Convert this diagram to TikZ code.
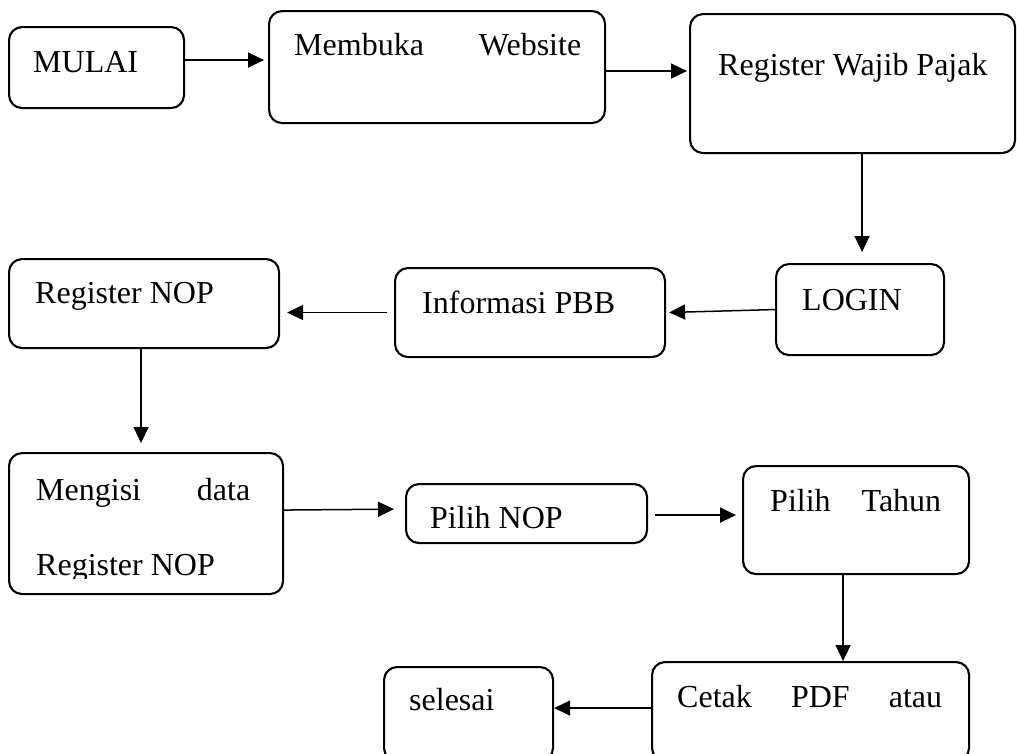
\documentclass[tikz,border=0pt]{standalone}
\usepackage{fontspec}
\setmainfont{Liberation Serif}
\usepackage{tikz}
\usetikzlibrary{arrows.meta}

\begin{document}
\begin{tikzpicture}[x=1pt, y=-1pt,
    kotak/.style={draw, line width=2.1pt, rounded corners=13pt, anchor=north west, inner sep=0pt},
    teks/.style={anchor=base west, inner sep=0pt, font=\fontsize{32}{38}\selectfont},
    panah/.style={line width=1.5pt, -{Triangle[length=16pt, width=15pt]}}]
    \clip (0,0) rectangle (1017,753);
    % Kotak
    \node[kotak, minimum width=175pt, minimum height=81pt]  (mulai)    at (8,26)    {};
    \node[kotak, minimum width=336pt, minimum height=112pt] (buka)     at (268,10)  {};
    \node[kotak, minimum width=325pt, minimum height=139pt] (regwp)    at (689,13)  {};
    \node[kotak, minimum width=168pt, minimum height=91pt]  (login)    at (775,263) {};
    \node[kotak, minimum width=270pt, minimum height=89pt]  (info)     at (394,267) {};
    \node[kotak, minimum width=270pt, minimum height=89pt]  (regnop)   at (8,258)   {};
    \node[kotak, minimum width=274pt, minimum height=141pt] (isi)      at (8,452)   {};
    \node[kotak, minimum width=241pt, minimum height=59pt]  (pilihnop) at (405,483) {};
    \node[kotak, minimum width=226pt, minimum height=108pt] (tahun)    at (742,465) {};
    \node[kotak, minimum width=317pt, minimum height=99pt]  (cetak)    at (651,661) {};
    \node[kotak, minimum width=169pt, minimum height=94pt]  (selesai)  at (383,666) {};
    % Teks
    \node[teks] (tmulai)   at (33,72)   {MULAI};
    \node[teks] (tbuka)    at (294,55)  {\makebox[287pt][s]{Membuka Website}};
    \node[teks] (tregwp)   at (718,75)  {Register Wajib Pajak};
    \node[teks] (tlogin)   at (802,310) {LOGIN};
    \node[teks] (tinfo)    at (422,313) {Informasi PBB};
    \node[teks] (tregnop)  at (35,303)  {Register NOP};
    \node[teks] (tisi)     at (36,500)  {\makebox[214pt][s]{Mengisi data}};
    \begin{scope}
      \clip (0,440) rectangle (300,578);
      \node[teks] (tisib)  at (36,575)  {Register NOP};
    \end{scope}
    \node[teks] (tpilih)   at (430,528) {Pilih NOP};
    \node[teks] (ttahun)   at (770,511) {\makebox[171pt][s]{Pilih Tahun}};
    \node[teks] (tcetak)   at (677,707) {\makebox[265pt][s]{Cetak PDF atau}};
    \node[teks] (tselesai) at (409,710) {selesai};
    % Panah
    \draw[panah, shorten >=4pt] ([yshift=7.5pt]mulai.east) -- ([yshift=7pt]buka.west);
    \draw[panah, shorten >=2pt] ([yshift=-4pt]buka.east) -- ([yshift=-4pt]buka.east -| regwp.west);
    \draw[panah, shorten >=11pt] ([xshift=9.5pt]regwp.south) -- ([xshift=9.5pt]regwp.south |- login.north);
    \draw[panah, shorten >=3pt] (login.west) -- (info.east);
    \draw[panah, shorten <=7pt, shorten >=7pt] (info.west) -- (info.west -| regnop.east);
    \draw[panah, shorten >=9pt] ([xshift=-3pt]regnop.south) -- ([xshift=-3pt]regnop.south |- isi.north);
    \draw[panah, shorten >=11pt] ([yshift=13.5pt]isi.east) -- ([yshift=4.5pt]pilihnop.west);
    \draw[panah, shorten <=7pt, shorten >=6pt] ([yshift=-1.5pt]pilihnop.east) -- ([yshift=-1.5pt]pilihnop.east -| tahun.west);
    \draw[panah] ([xshift=-13pt]tahun.south) -- ([xshift=-13pt]tahun.south |- cetak.north);
    \draw[panah] ([yshift=3.5pt]cetak.west) -- ([yshift=3.5pt]cetak.west -| selesai.east);
\end{tikzpicture}
\end{document}
